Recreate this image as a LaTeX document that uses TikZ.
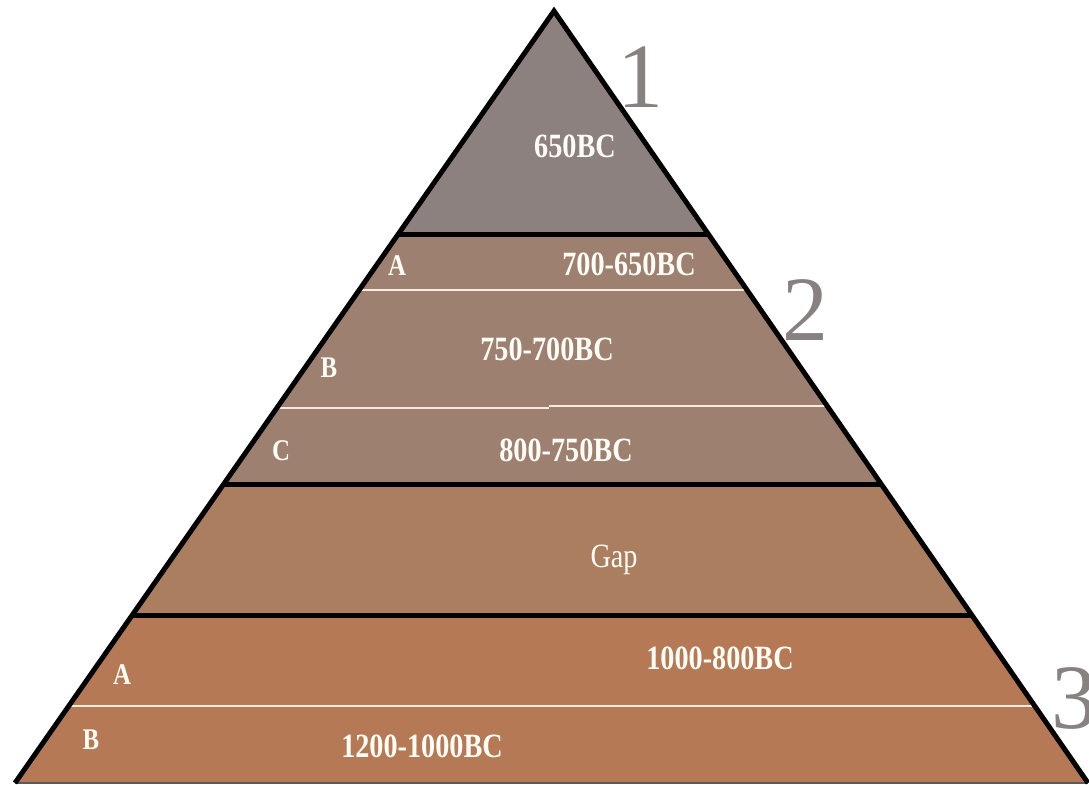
\documentclass[tikz,border=0pt]{standalone}
\usepackage{fontspec}
\setmainfont{Liberation Serif}
\newfontfamily\condfont[FakeStretch=0.83]{Liberation Serif}
\definecolor{topgray}{RGB}{141,129,127}
\definecolor{midband}{RGB}{157,128,112}
\definecolor{gapband}{RGB}{172,126,96}
\definecolor{lowband}{RGB}{181,121,86}
\definecolor{labelwhite}{RGB}{255,253,246}
\definecolor{thinline}{RGB}{245,236,222}
\definecolor{numgray}{RGB}{136,129,129}
\begin{document}
\begin{tikzpicture}[x=1pt,y=-1pt,
  lbl/.style={text=labelwhite, font=\condfont\bfseries\fontsize{34}{34}\selectfont, anchor=base, inner sep=0pt},
  sublbl/.style={text=labelwhite, font=\condfont\bfseries\fontsize{30}{30}\selectfont, anchor=base, inner sep=0pt},
  gaplbl/.style={text=labelwhite, font=\condfont\fontsize{34}{34}\selectfont, anchor=base, inner sep=0pt},
  numlbl/.style={text=numgray, font=\fontsize{92}{92}\selectfont, inner sep=0pt},
  sepline/.style={line width=5pt, black},
  whiteline/.style={line width=2pt, thinline},
  edge/.style={line width=5pt, black}]
\useasboundingbox (0,0) rectangle (1089,784);
\fill[white] (0,0) rectangle (1089,784);
\coordinate (apex) at (554,11);
\coordinate (bl) at (15,783);
\coordinate (br) at (1088,783);
\begin{scope}
  \clip (apex) -- (bl) -- (br) -- cycle;
  \fill[topgray] (0,0) rectangle (1089,234);
  \fill[midband] (0,234) rectangle (1089,484);
  \fill[gapband] (0,484) rectangle (1089,615);
  \fill[lowband] (0,615) rectangle (1089,784);
  \draw[whiteline] (0,290) -- (1089,290);
  \draw[whiteline] (0,408) -- (549,408);
  \draw[whiteline] (549,406) -- (1089,406);
  \draw[whiteline] (0,706) -- (1089,706);
  \draw[sepline] (0,234) -- (1089,234);
  \draw[sepline] (0,484) -- (1089,484);
  \draw[sepline] (0,615) -- (1089,615);
\end{scope}
\draw[line width=1.5pt, black!65] (bl) -- (br);
\draw[edge] (bl) -- (apex) -- (br);
% labels
\node[lbl] (t1) at (575,157) {650BC};
\node[sublbl] (a2) at (397,275) {A};
\node[lbl] (t2a) at (629,275) {700-650BC};
\node[sublbl] (b2) at (329,377) {B};
\node[lbl] (t2b) at (547,360) {750-700BC};
\node[sublbl] (c2) at (281,460) {C};
\node[lbl] (t2c) at (566,461) {800-750BC};
\node[gaplbl] (gap) at (614,567) {Gap};
\node[sublbl] (a3) at (122,684) {A};
\node[lbl] (t3a) at (720,669) {1000-800BC};
\node[sublbl] (b3) at (91,749) {B};
\node[lbl] (t3b) at (422,757) {1200-1000BC};
% level numbers
\node[numlbl, anchor=base] (n1) at (640,107) {1};
\node[numlbl, anchor=base] (n2) at (805,340) {2};
\node[numlbl, anchor=base west] (n3) at (1051,728) {3};
\end{tikzpicture}
\end{document}
